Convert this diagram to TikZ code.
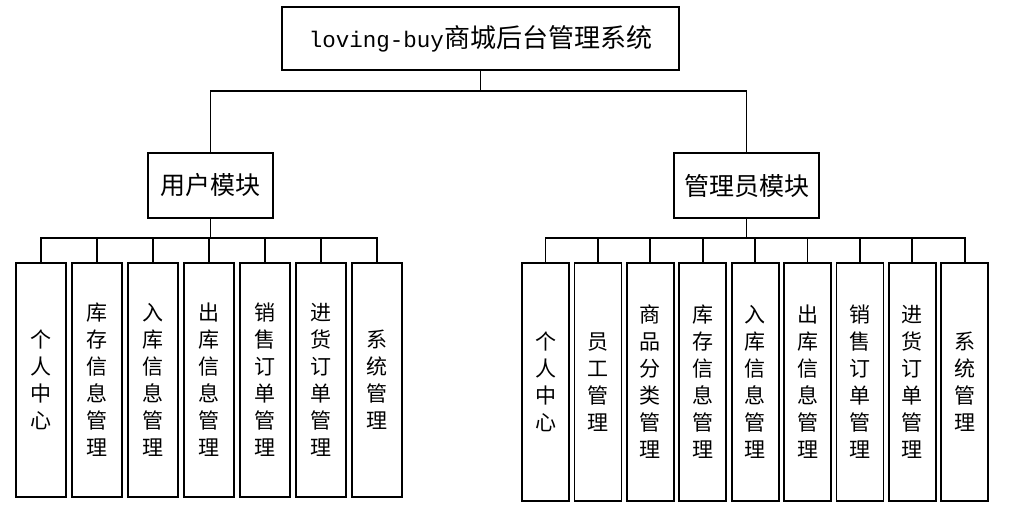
\documentclass[tikz,border=0pt]{standalone}
\usepackage{fontspec}
\setmainfont{Noto Sans CJK SC}
\setmonofont{Liberation Mono}
\usetikzlibrary{positioning}
\tikzset{
  box/.style={draw,line width=1.8pt,inner sep=0pt,align=center},
  leaf/.style={box,minimum width=#1,font=\fontsize{21}{27}\selectfont},
  link/.style={line width=1.8pt}
}

\begin{document}
\begin{tikzpicture}[x=1pt,y=-1pt]
\useasboundingbox (0,0) rectangle (1019,516);
% top level and the two modules
\node[box,minimum width=397pt,minimum height=63pt,font=\fontsize{26}{30}\selectfont] (mall) at (480.5,38.5)
  {{\ttfamily\fontsize{22.5}{30}\selectfont loving-buy}商城后台管理系统};
\node[box,minimum width=125pt,minimum height=65pt,font=\fontsize{25}{28}\selectfont] (user) at (210.5,185.5) {用户模块};
\node[box,minimum width=145pt,minimum height=65pt,font=\fontsize{25}{28}\selectfont] (admin) at (746.5,185.5) {管理员模块};
\draw[link] (mall.south) -- ++(0,20) -| (user.north);
\draw[link] (mall.south) -- ++(0,20) -| (admin.north);
% user leaves
\foreach \t [count=\i from 0] in {{个\\人\\中\\心},{库\\存\\信\\息\\管\\理},{入\\库\\信\\息\\管\\理},{出\\库\\信\\息\\管\\理},{销\\售\\订\\单\\管\\理},{进\\货\\订\\单\\管\\理},{系\\统\\管\\理}}{
  \node[leaf=50pt,minimum height=234pt] (u\i) at (41+56*\i,380) {\t};
  \draw[link] (user.south) -- ++(0,19) -| (u\i.north);
}
% admin leaves
\foreach \t [count=\i from 0] in {{个\\人\\中\\心},{员\\工\\管\\理},{商\\品\\分\\类\\管\\理},{库\\存\\信\\息\\管\\理},{入\\库\\信\\息\\管\\理},{出\\库\\信\\息\\管\\理},{销\\售\\订\\单\\管\\理},{进\\货\\订\\单\\管\\理},{系\\统\\管\\理}}{
  \node[leaf=47pt,minimum height=238pt] (a\i) at (545.5+52.4*\i,382) {\t};
  \draw[link] (admin.south) -- ++(0,19) -| (a\i.north);
}
\end{tikzpicture}
\end{document}
